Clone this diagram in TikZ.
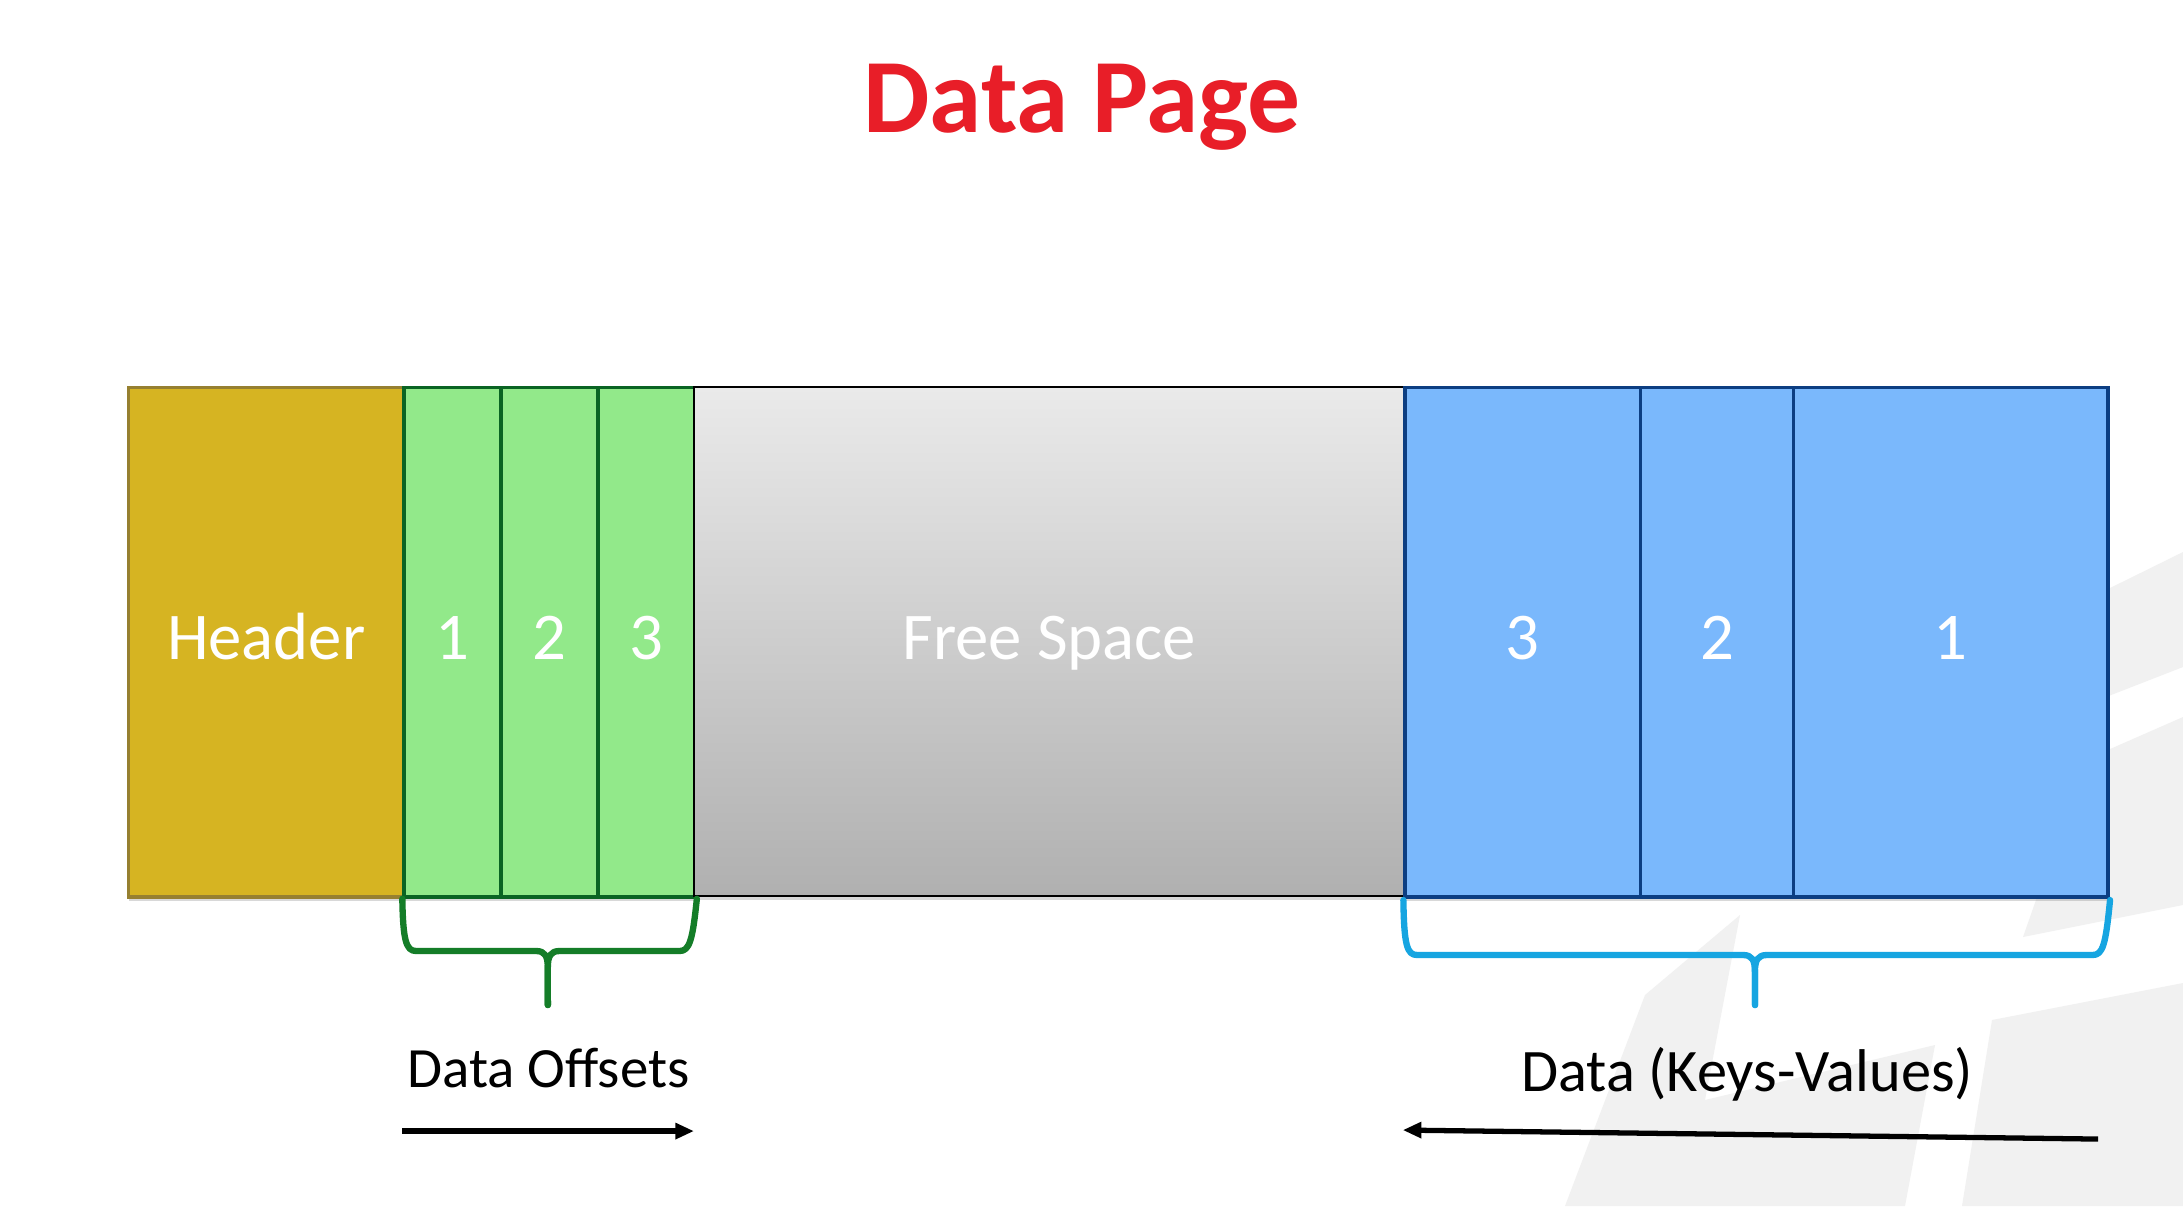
\documentclass[tikz,border=0pt]{standalone}
\usepackage{fontspec}
\setmainfont{Carlito}
\usetikzlibrary{shadows}
\definecolor{hdrfill}{RGB}{214,180,34}
\definecolor{hdrline}{RGB}{150,128,48}
\definecolor{offfill}{RGB}{146,233,138}
\definecolor{offline}{RGB}{10,100,35}
\definecolor{freetop}{RGB}{234,234,234}
\definecolor{freebot}{RGB}{176,176,176}
\definecolor{datfill}{RGB}{122,184,252}
\definecolor{datline}{RGB}{12,62,130}
\definecolor{offbrace}{RGB}{20,125,40}
\definecolor{datbrace}{RGB}{22,165,225}
\definecolor{titlered}{RGB}{232,30,40}
\definecolor{markgray}{RGB}{241,241,241}
\newcommand\cellfont{\fontsize{19}{23}\selectfont}
\newcommand\labelfont{\fontsize{16.2}{20}\selectfont}
\newcommand\titlefont{\fontsize{30}{36}\selectfont\bfseries}
\begin{document}
\begin{tikzpicture}[scale=0.1]
\tikzstyle{every node}+=[inner sep=0pt]
\tikzstyle{cell}=[draw, anchor=north west, minimum height=50.96mm, text=white, font=\cellfont, text height=1.0em, text depth=0pt, line width=1pt, drop shadow={shadow xshift=0.1mm, shadow yshift=-0.4mm, opacity=0.3}]
\tikzstyle{hdrcell}=[cell, fill=hdrfill, draw=hdrline]
\tikzstyle{offcell}=[cell, fill=offfill, draw=offline, minimum width=9.7mm]
\tikzstyle{freecell}=[cell, top color=freetop, bottom color=freebot, draw=black, line width=0.6pt]
\tikzstyle{datcell}=[cell, fill=datfill, draw=datline]
\tikzstyle{brace}=[line width=1.8pt, line cap=round, line join=round]
\tikzstyle{arrowline}=[black, line width=1.5pt]
\useasboundingbox (0,0) rectangle (218.3,-120.6);
\fill [white] (0,0) rectangle (218.3,-120.6);
% faint logo in the back
\fill [markgray] (210.6,-59.0) -- (218.3,-55.2) -- (218.3,-66.7) -- (210.6,-69.7) -- cycle;
\fill [markgray] (218.3,-71.7) -- (218.3,-90.5) -- (202.3,-93.7) -- (208.5,-76.0) -- cycle;
\fill [markgray] (199.2,-102.0) -- (218.3,-98.3) -- (218.3,-120.6) -- (196.2,-120.6) -- cycle;
\fill [markgray] (174.0,-91.5) -- (164.5,-99.5) -- (156.5,-120.6) -- (190.5,-120.6) -- (193.5,-104.5) -- (170.5,-110.0) -- cycle;
% title
\node [font=\titlefont, text=titlered, anchor=base] (title) at (108.2,-13.2) {Data Page};
% page cells
\node [hdrcell, minimum width=27.56mm] (hdr) at (12.67,-38.56) {Header};
\node [offcell] (o1) at (40.23,-38.56) {1};
\node [offcell] (o2) at (49.93,-38.56) {2};
\node [offcell] (o3) at (59.63,-38.56) {3};
\node [freecell, minimum width=71mm] (free) at (69.33,-38.56) {Free Space};
\node [datcell, minimum width=23.53mm] (d3) at (140.33,-38.56) {3};
\node [datcell, minimum width=15.31mm] (d2) at (163.86,-38.56) {2};
\node [datcell, minimum width=31.47mm] (d1) at (179.17,-38.56) {1};
% braces
\coordinate (otip) at (54.78,-100.5);
\coordinate (dtip) at (175.49,-100.5);
\draw [brace, offbrace] (o1.south west) .. controls (40.3,-94.0) and (40.6,-95.1) .. (41.6,-95.1) -- (53.6,-95.1) .. controls (54.5,-95.1) and (54.78,-95.6) .. (54.78,-96.8) -- (otip);
\draw [brace, offbrace] (o3.south east) .. controls (69.26,-94.0) and (68.96,-95.1) .. (67.96,-95.1) -- (55.96,-95.1) .. controls (55.06,-95.1) and (54.78,-95.6) .. (54.78,-96.8) -- (otip);
\draw [brace, datbrace] ([yshift=-1.3mm]d3.south west) .. controls (140.4,-94.5) and (140.7,-95.5) .. (141.7,-95.5) -- (174.3,-95.5) .. controls (175.2,-95.5) and (175.49,-96.0) .. (175.49,-97.2) -- (dtip);
\draw [brace, datbrace] ([yshift=-1.3mm]d1.south east) .. controls (210.57,-94.5) and (210.27,-95.5) .. (209.27,-95.5) -- (176.69,-95.5) .. controls (175.79,-95.5) and (175.49,-96.0) .. (175.49,-97.2) -- (dtip);
% labels
\node [font=\labelfont, anchor=base] (offlbl) at (54.85,-108.7) {Data Offsets};
\node [font=\labelfont, anchor=base, scale=1.06] (datlbl) at (174.7,-109.1) {Data (Keys-Values)};
% growth arrows
\coordinate (oa1) at (40.23,-113.1);
\coordinate (oa2) at (69.33,-113.1);
\coordinate (da1) at (209.8,-113.9);
\coordinate (da2) at (140.33,-113.0);
\draw [arrowline, shorten >=1.5mm] (oa1) -- (oa2);
\fill [black] (oa2) -- ++(-1.8,0.85) -- ++(0,-1.7) -- cycle;
\draw [arrowline, shorten >=1.5mm] (da1) -- (da2);
\fill [black] (da2) -- ++(1.8,0.85) -- ++(0,-1.7) -- cycle;
\end{tikzpicture}
\end{document}
